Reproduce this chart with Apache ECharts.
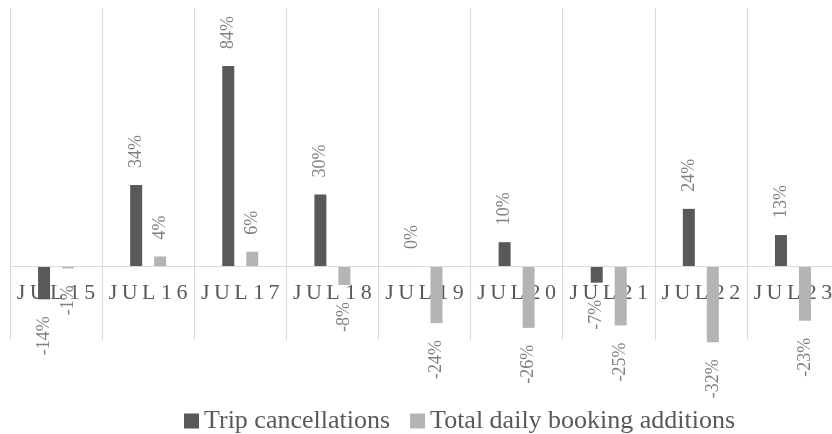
<!DOCTYPE html>
<html>
<head>
<meta charset="utf-8">
<script src="https://cdn.jsdelivr.net/npm/echarts@6/dist/echarts.min.js"></script>
<style>
  html, body { margin: 0; padding: 0; background: #fff; }
  #chart { width: 832px; height: 434px; }
</style>
</head>
<body>
<div id="chart"></div>
<script>
var categories = ['JUL 15', 'JUL 16', 'JUL 17', 'JUL 18', 'JUL 19', 'JUL 20', 'JUL 21', 'JUL 22', 'JUL 23'];
var cancellations = [-14, 34, 84, 30, 0, 10, -7, 24, 13];
var bookings = [-1, 4, 6, -8, -24, -26, -25, -32, -23];
var seriesNames = ['Trip cancellations', 'Total daily booking additions'];

var FONT = "'Liberation Serif', 'Times New Roman', serif";

// labels go above positive bars and below negative ones, rotated
function withLabels(values) {
    return values.map(function (v) {
        var neg = v < 0;
        return {
            value: v,
            label: {
                show: true,
                position: neg ? 'bottom' : 'top',
                rotate: 90,
                align: neg ? 'right' : 'left',
                verticalAlign: 'middle',
                distance: 17,
                formatter: '{c}%',
                color: '#7f7f7f',
                fontFamily: FONT,
                fontSize: 18
            }
        };
    });
}

var chartDom = document.getElementById('chart');
var myChart = echarts.init(chartDom, null, { renderer: 'canvas' });
var option;

option = {
    animation: false,
    grid: {
        left: 10,
        width: 829,
        top: 8,
        bottom: 94,
        containLabel: false,
        // last column runs past the right edge, as in the original crop
        outerBoundsMode: 'none'
    },
    legend: {
        left: 184,
        top: 408,
        padding: 0,
        icon: 'rect',
        itemWidth: 15,
        itemHeight: 15,
        itemGap: 20,
        textStyle: {
            color: '#595959',
            fontFamily: FONT,
            fontSize: 26
        },
        data: seriesNames
    },
    xAxis: {
        type: 'category',
        data: categories,
        axisLine: { onZero: false, show: false },
        axisTick: { show: false },
        splitLine: { show: true, interval: 0, lineStyle: { color: '#d9d9d9', width: 1 } },
        axisLabel: {
            interval: 0,
            // labels sit just under the zero line, not at the grid bottom
            margin: -58,
            color: '#595959',
            fontFamily: FONT,
            fontSize: 22,
            formatter: function (s) {
                var parts = s.split(' ');
                return parts.map(function (p) { return p.split('').join('\u2009'); }).join(' ');
            }
        }
    },
    yAxis: {
        type: 'value',
        min: -31.1,
        max: 108.4,
        axisLine: { show: false },
        axisTick: { show: false },
        axisLabel: { show: false },
        splitLine: { show: false }
    },
    series: [
        {
            name: seriesNames[0],
            type: 'bar',
            barWidth: 12,
            barGap: '100%',
            clip: false,
            itemStyle: { color: '#595959' },
            data: withLabels(cancellations),
            markLine: {
                silent: true,
                symbol: 'none',
                label: { show: false },
                lineStyle: { color: '#d9d9d9', width: 1, type: 'solid' },
                data: [{ yAxis: 0 }]
            }
        },
        {
            name: seriesNames[1],
            type: 'bar',
            barWidth: 12,
            barGap: '100%',
            clip: false,
            itemStyle: { color: '#b4b4b4' },
            data: withLabels(bookings)
        }
    ]
};

option && myChart.setOption(option);
</script>
</body>
</html>
